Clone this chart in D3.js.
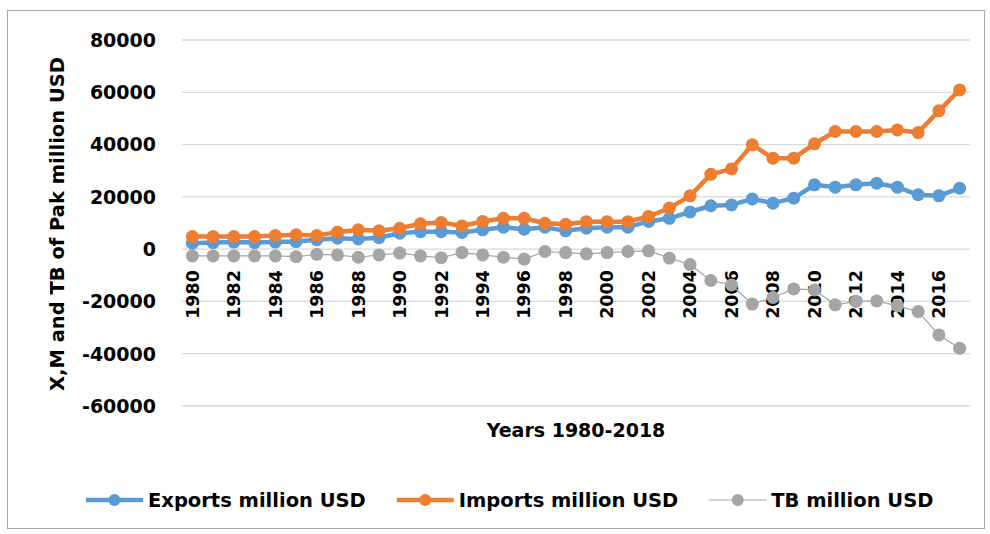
<!DOCTYPE html>
<html>
<head>
<meta charset="utf-8">
<script src="https://cdn.jsdelivr.net/npm/d3@7"></script>
<style>
  body { margin: 0; background: #fff; }
  text { font-family: "DejaVu Sans", sans-serif; font-weight: bold; fill: #000; }
</style>
</head>
<body>
<div id="my_dataviz"></div>
<script>
var years = d3.range(1980, 2018);

var exportsUSD = [2300, 2500, 2700, 2500, 2700, 2900, 3600, 4200, 3900, 4400, 6100, 6700, 6700,
  6400, 7400, 8400, 7600, 8400, 7000, 8000, 8400, 8400, 10600, 11800,
  14200, 16600, 16900, 19200, 17600, 19500, 24600, 23700, 24600, 25200, 23700, 20800, 20400, 23300];

var importsUSD = [4800, 4800, 4800, 4800, 5200, 5500, 5200, 6500, 7400, 7000, 8000, 9700, 10200,
  8900, 10600, 11800, 11800, 9900, 9500, 10500, 10500, 10500, 12500, 15700,
  20400, 28600, 30700, 39900, 34800, 34800, 40300, 45000, 45000, 45000, 45600, 44600, 52900, 60900];

var tbUSD = [-2600, -2600, -2600, -2600, -2600, -2900, -2000, -2200, -3100, -2200, -1500, -2600, -3300,
  -1300, -2200, -3100, -3800, -900, -1300, -1800, -1300, -900, -650, -3400,
  -5900, -12000, -13700, -21000, -18500, -15200, -15600, -21300, -20000, -19800, -21700, -23900, -32800, -37900];

var yTicks = [-60000, -40000, -20000, 0, 20000, 40000, 60000, 80000];
var xTickLabels = years.filter(function (d, i) { return i % 2 === 0; });

var seriesNames = ["Exports million USD", "Imports million USD", "TB million USD"];
var seriesColors = ["#5b9bd5", "#ed7d31", "#a5a5a5"];

var width = 990, height = 534;

var svg = d3
  .select("#my_dataviz")
  .append("svg")
  .attr("width", width)
  .attr("height", height);

// chart border
svg
  .append("rect")
  .attr("x", 7.5)
  .attr("y", 10.5)
  .attr("width", 977)
  .attr("height", 518)
  .attr("fill", "#fff")
  .attr("stroke", "#a6a6a6");

var x = d3.scalePoint().domain(years).range([182, 970]).padding(0.5);
var y = d3.scaleLinear().domain([-60000, 80000]).range([406, 40]);

// gridlines
svg
  .append("g")
  .selectAll("line")
  .data(yTicks)
  .join("line")
  .attr("x1", 182)
  .attr("x2", 970)
  .attr("y1", function (d) { return y(d); })
  .attr("y2", function (d) { return y(d); })
  .attr("stroke", "#d9d9d9")
  .attr("stroke-width", 1.3);

// y axis labels
svg
  .append("g")
  .selectAll("text")
  .data(yTicks)
  .join("text")
  .attr("x", 156)
  .attr("y", function (d) { return y(d); })
  .attr("dy", "0.36em")
  .attr("text-anchor", "end")
  .style("font-size", "19px")
  .text(function (d) { return d; });

// x axis labels, rotated, hanging below the zero line
svg
  .append("g")
  .selectAll("text")
  .data(xTickLabels)
  .join("text")
  .attr("transform", function (d) {
    return "translate(" + x(d) + "," + (y(0) + 21) + ") rotate(-90)";
  })
  .attr("dy", "0.36em")
  .attr("text-anchor", "end")
  .style("font-size", "17.5px")
  .text(function (d) { return d; });

// axis titles
svg
  .append("text")
  .attr("x", 576)
  .attr("y", 437)
  .attr("text-anchor", "middle")
  .style("font-size", "19px")
  .text("Years 1980-2018");

svg
  .append("text")
  .attr("transform", "translate(57,224) rotate(-90)")
  .attr("dy", "0.36em")
  .attr("text-anchor", "middle")
  .style("font-size", "19.5px")
  .text("X,M and TB of Pak million USD");

var allSeries = [exportsUSD, importsUSD, tbUSD];
var lineWidths = [4.5, 4.5, 1.2];

var line = d3
  .line()
  .x(function (d, i) { return x(years[i]); })
  .y(function (d) { return y(d); });

allSeries.forEach(function (values, k) {
  var g = svg.append("g");
  g.append("path")
    .attr("d", line(values))
    .attr("fill", "none")
    .attr("stroke", seriesColors[k])
    .attr("stroke-width", lineWidths[k])
    .attr("stroke-linejoin", "round");
  g.selectAll("circle")
    .data(values)
    .join("circle")
    .attr("cx", function (d, i) { return x(years[i]); })
    .attr("cy", function (d) { return y(d); })
    .attr("r", 6.5)
    .attr("fill", seriesColors[k]);
});

// legend
var legend = svg.append("g").attr("transform", "translate(86,500)");
var lx = 0;
seriesNames.forEach(function (name, k) {
  var item = legend.append("g").attr("transform", "translate(" + lx + ",0)");
  item
    .append("line")
    .attr("x1", 0)
    .attr("x2", 57)
    .attr("stroke", seriesColors[k])
    .attr("stroke-width", lineWidths[k]);
  item
    .append("circle")
    .attr("cx", 28.5)
    .attr("r", 6)
    .attr("fill", seriesColors[k]);
  var t = item
    .append("text")
    .attr("x", 62)
    .attr("dy", "0.36em")
    .style("font-size", "19.5px")
    .text(name);
  lx += 62 + t.node().getComputedTextLength() + 31;
});
</script>
</body>
</html>
